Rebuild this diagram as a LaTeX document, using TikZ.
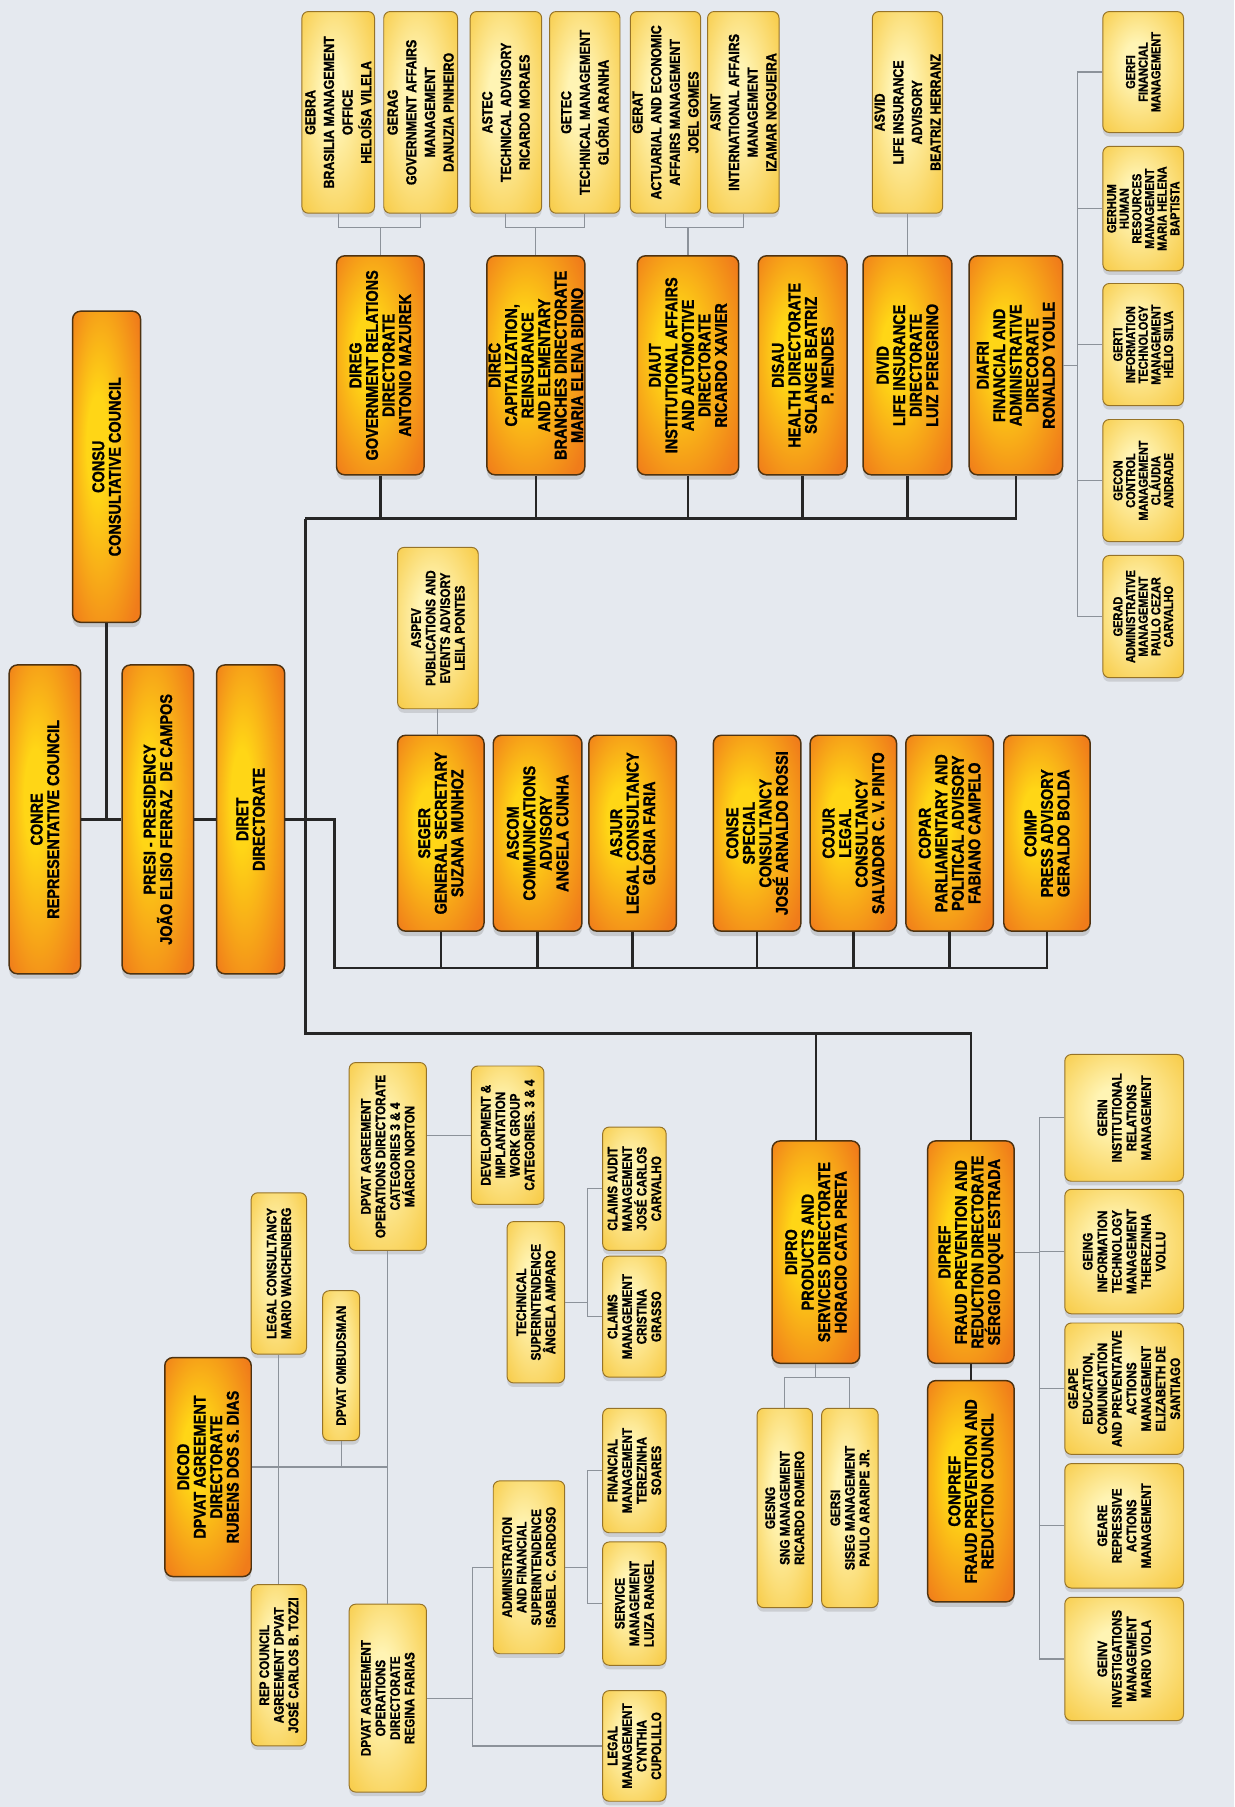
\documentclass[tikz,border=0pt]{standalone}
\usepackage{fontspec}
\setmainfont{Liberation Sans}[FakeStretch=0.85, BoldFeatures={FakeBold=1.2}]
\usepackage{tikz}
\usetikzlibrary{shadows}
\definecolor{bgcol}{RGB}{229,233,239}
\definecolor{orgout}{RGB}{240,124,26}
\definecolor{orgin}{RGB}{255,214,22}
\definecolor{palein}{RGB}{255,244,180}
\definecolor{paleout}{RGB}{246,196,52}
\definecolor{rim}{RGB}{78,50,16}
\definecolor{palerim}{RGB}{150,115,40}
\definecolor{wire}{RGB}{38,38,38}
\definecolor{twigcol}{RGB}{140,146,154}
\pgfdeclareradialshading{orgglow}{\pgfpoint{-8bp}{4bp}}{color(0bp)=(orgin); color(8bp)=(orgin); color(34bp)=(orgout); color(50bp)=(orgout)}
\pgfdeclareradialshading{paleglow}{\pgfpoint{-5bp}{5bp}}{color(0bp)=(palein); color(8bp)=(palein); color(40bp)=(paleout); color(50bp)=(paleout)}

\begin{document}
\begin{tikzpicture}[x=0.025cm,y=-0.025cm,
  obox/.style={shade, shading=orgglow, draw=rim, line width=0.9pt, rounded corners=5pt, rotate=90, align=center, inner sep=1pt,
    drop shadow={opacity=0.3, shadow xshift=0pt, shadow yshift=-3pt}, font=\bfseries\fontsize{10.5}{10.2}\selectfont},
  ybox/.style={shade, shading=paleglow, draw=palerim, line width=0.6pt, rounded corners=4pt, rotate=90, align=center, inner sep=1pt,
    drop shadow={opacity=0.25, shadow xshift=0pt, shadow yshift=-2.5pt}, font=\bfseries\fontsize{9}{11.5}\selectfont},
  ymid/.style={ybox, font=\bfseries\fontsize{8.5}{9}\selectfont},
  ysmall/.style={ybox, font=\bfseries\fontsize{8}{7.8}\selectfont},
  dims/.style 2 args={minimum height=#1*0.025cm, minimum width=#2*0.025cm},
  trunk/.style={draw=wire, line width=1.6pt},
  twig/.style={draw=twigcol, line width=0.7pt}]
  \fill[bgcol] (0,0) rectangle (1071,1568);
  \useasboundingbox (0,0) rectangle (1071,1568);

  \node[obox, dims={62}{268}] (conre) at (39,711) {CONRE\\REPRESENTATIVE COUNCIL};
  \node[obox, dims={62}{268}] (presi) at (137,711) {PRESI - PRESIDENCY\\JOÃO ELISIO FERRAZ~ DE CAMPOS};
  \node[obox, dims={59}{268}] (diret) at (217.5,711) {DIRET\\DIRECTORATE};
  \node[obox, dims={59}{270}] (consu) at (92.5,405) {CONSU\\CONSULTATIVE COUNCIL};

  \node[obox, dims={76}{190}] (direg) at (330,317) {DIREG\\GOVERNMENT RELATIONS\\DIRECTORATE\\ANTONIO MAZUREK};
  \node[obox, dims={82}{190}] (direc) at (465,317) {DIREC\\CAPITALIZATION,\\REINSURANCE\\AND ELEMENTARY\\BRANCHES DIRECTORATE\\MARIA ELENA BIDINO};
  \node[obox, dims={88}{190}] (diaut) at (597,317) {DIAUT\\INSTITUTIONAL AFFAIRS\\AND AUTOMOTIVE\\DIRECTORATE\\RICARDO XAVIER};
  \node[obox, dims={77}{190}] (disau) at (696.5,317) {DISAU\\HEALTH DIRECTORATE\\SOLANGE BEATRIZ\\P. MENDES};
  \node[obox, dims={77}{190}] (divid) at (787.5,317) {DIVID\\LIFE INSURANCE\\DIRECTORATE\\LUIZ PEREGRINO};
  \node[obox, dims={81}{190}] (diafri) at (881.5,317) {DIAFRI\\FINANCIAL AND\\ADMINISTRATIVE\\DIRECORATE\\RONALDO YOULE};

  \node[ybox, dims={63}{175}] (gebra) at (293.5,97.5) {GEBRA\\BRASILIA MANAGEMENT\\OFFICE\\HELOÍSA VILELA};
  \node[ybox, dims={64}{175}] (gerag) at (365,97.5) {GERAG\\GOVERNMENT AFFAIRS\\MANAGEMENT\\DANUZIA PINHEIRO};
  \node[ybox, dims={62}{175}] (astec) at (439,97.5) {ASTEC\\TECHNICAL ADVISORY\\RICARDO MORAES};
  \node[ybox, dims={61}{175}] (getec) at (507.5,97.5) {GETEC\\TECHNICAL MANAGEMENT\\GLÓRIA ARANHA};
  \node[ybox, dims={61}{175}] (gerat) at (577.5,97.5) {GERAT\\ACTUARIAL AND ECONOMIC\\AFFAIRS MANAGEMENT\\JOEL GOMES};
  \node[ybox, dims={62}{175}] (asint) at (645,97.5) {ASINT\\INTERNATIONAL AFFAIRS\\MANAGEMENT\\IZAMAR NOGUEIRA};
  \node[ybox, dims={61}{175}] (asvid) at (787.5,97.5) {ASVID\\LIFE INSURANCE\\ADVISORY\\BEATRIZ HERRANZ};

  \node[ysmall, dims={70}{105}] (gerfi) at (992,62.5) {GERFI\\FINANCIAL\\MANAGEMENT};
  \node[ysmall, dims={70}{108}] (gerhum) at (992,181) {GERHUM\\HUMAN\\RESOURCES\\MANAGEMENT\\MARIA HELENA\\BAPTISTA};
  \node[ysmall, dims={70}{106}] (gerti) at (992,299) {GERTI\\INFORMATION\\TECHNOLOGY\\MANAGEMENT\\HÉLIO SILVA};
  \node[ysmall, dims={70}{106}] (gecon) at (992,417) {GECON\\CONTROL\\MANAGEMENT\\CLÁUDIA\\ANDRADE};
  \node[ysmall, dims={70}{106}] (gerad) at (992,535) {GERAD\\ADMINISTRATIVE\\MANAGEMENT\\PAULO CEZAR\\CARVALHO};

  \node[ymid, dims={70}{140}] (aspev) at (380,545) {ASPEV\\PUBLICATIONS AND\\EVENTS ADVISORY\\LEILA PONTES};
  \node[obox, dims={75}{170}] (seger) at (382.5,723) {SEGER\\GENERAL SECRETARY\\SUZANA MUNHOZ};
  \node[obox, dims={77}{170}] (ascom) at (466.5,723) {ASCOM\\COMMUNICATIONS\\ADVISORY\\ANGELA CUNHA};
  \node[obox, dims={76}{170}] (asjur) at (549,723) {ASJUR\\LEGAL CONSULTANCY\\GLÓRIA FARIA};
  \node[obox, dims={76}{170}] (conse) at (657,723) {CONSE\\SPECIAL\\CONSULTANCY\\JOSÉ ARNALDO ROSSI};
  \node[obox, dims={75}{170}] (cojur) at (740.5,723) {COJUR\\LEGAL\\CONSULTANCY\\SALVADOR C. V. PINTO};
  \node[obox, dims={76}{170}] (copar) at (824,723) {COPAR\\PARLIAMENTARY AND\\POLITICAL ADVISORY\\FABIANO CAMPELO};
  \node[obox, dims={75}{170}] (coimp) at (908.5,723) {COIMP\\PRESS ADVISORY\\GERALDO BOLDA};

  \node[obox, dims={76}{193}] (dipro) at (708,1086.5) {DIPRO\\PRODUCTS AND\\SERVICES DIRECTORATE\\HORACIO CATA PRETA};
  \node[ymid, dims={48}{173}] (gesng) at (681,1308.5) {GESNG\\SNG MANAGEMENT\\RICARDO ROMEIRO};
  \node[ymid, dims={49}{173}] (gersi) at (737.5,1308.5) {GERSI\\SISEG MANAGEMENT\\PAULO ARARIPE JR.};
  \node[obox, dims={75}{193}] (dipref) at (842.5,1086.5) {DIPREF\\FRAUD PREVENTION AND\\REDUCTION DIRECTORATE\\SÉRGIO DUQUE ESTRADA};
  \node[obox, dims={75}{192}] (conpref) at (842.5,1294) {CONPREF\\FRAUD PREVENTION AND\\REDUCTION COUNCIL};

  \node[ymid, dims={103}{110}] (gerin) at (975.5,970) {GERIN\\INSTITUTIONAL\\RELATIONS\\MANAGEMENT};
  \node[ymid, dims={103}{108}] (geing) at (975.5,1086) {GEING\\INFORMATION\\TECHNOLOGY\\MANAGEMENT\\THEREZINHA\\VOLLU};
  \node[ymid, dims={103}{114}] (geape) at (975.5,1205) {GEAPE\\EDUCATION,\\COMUNICATION\\AND PREVENTATIVE\\ACTIONS\\MANAGEMENT\\ELIZABETH DE\\SANTIAGO};
  \node[ymid, dims={103}{108}] (geare) at (975.5,1324) {GEARE\\REPRESSIVE\\ACTIONS\\MANAGEMENT};
  \node[ymid, dims={103}{107}] (geinv) at (975.5,1439.5) {GEINV\\INVESTIGATIONS\\MANAGEMENT\\MARIO VIOLA};

  \node[obox, dims={75}{190}] (dicod) at (180.5,1273) {DICOD\\DPVAT AGREEMENT\\DIRECTORATE\\RUBENS DOS S. DIAS};
  \node[ymid, dims={48}{140}] (legcons) at (242,1105) {LEGAL CONSULTANCY\\MARIO WAICHENBERG};
  \node[ymid, dims={48}{140}] (repcouncil) at (242,1445) {REP COUNCIL\\AGREEMENT DPVAT\\JOSÉ CARLOS B. TOZZI};
  \node[ymid, dims={32}{130}] (ombud) at (296,1185) {DPVAT OMBUDSMAN};
  \node[ymid, dims={67}{163}] (norton) at (336.5,1003.5) {DPVAT AGREEMENT\\OPERATIONS DIRECTORATE\\CATEGORIES 3 \& 4\\MÁRCIO NORTON};
  \node[ymid, dims={67}{163}] (regina) at (336.5,1473.5) {DPVAT AGREEMENT\\OPERATIONS\\DIRECTORATE\\REGINA FARIAS};
  \node[ymid, dims={63}{120}] (devgroup) at (440.5,985) {DEVELOPMENT \&\\IMPLANTATION\\WORK GROUP\\CATEGORIES. 3 \& 4};
  \node[ymid, dims={50}{140}] (techsup) at (465,1130) {TECHNICAL\\SUPERINTENDENCE\\ÂNGELA AMPARO};
  \node[ymid, dims={55}{107}] (claudit) at (550.5,1031.5) {CLAIMS AUDIT\\MANAGEMENT\\JOSÉ CARLOS\\CARVALHO};
  \node[ymid, dims={55}{105}] (clmgmt) at (550.5,1142.5) {CLAIMS\\MANAGEMENT\\CRISTINA\\GRASSO};
  \node[ymid, dims={62}{150}] (adminsup) at (459,1360) {ADMINISTRATION\\AND FINANCIAL\\SUPERINTENDENCE\\ISABEL C. CARDOSO};
  \node[ymid, dims={55}{108}] (finmgmt) at (550.5,1276) {FINANCIAL\\MANAGEMENT\\TEREZINHA\\SOARES};
  \node[ymid, dims={55}{107}] (servmgmt) at (550.5,1391.5) {SERVICE\\MANAGEMENT\\LUIZA RANGEL};
  \node[ymid, dims={55}{96}] (legmgmt) at (550.5,1515) {LEGAL\\MANAGEMENT\\CYNTHIA\\CUPOLILLO};

  \coordinate (busTop) at (265,450);
  \coordinate (busMid) at (290,840);
  \coordinate (busLow) at (265,897);
  \draw[trunk] (conre.south) -- (presi.north);
  \draw[trunk] (presi.south) -- (diret.north);
  \draw[trunk] (consu.west) -- (consu.west |- presi.center);
  \draw[trunk] (diret.south) -- (busMid |- diret.south) -- (busMid) -| (coimp.west);
  \draw[trunk] (busTop) -- (busLow) -| (dipref.east);
  \draw[trunk] (busTop) -| (diafri.west);
  \foreach \n in {direg,direc,diaut,disau,divid}
    \draw[trunk] (\n.west) -- (\n.west |- busTop);
  \foreach \n in {seger,ascom,asjur,conse,cojur,copar}
    \draw[trunk] (\n.west) -- (\n.west |- busMid);
  \draw[trunk] (dipro.east) -- (dipro.east |- busLow);
  \draw[trunk] (dipref.west) -- (conpref.east);

  \coordinate (spineA) at (935,0);
  \coordinate (spineB) at (902,0);
  \coordinate (spineC) at (336.5,0);
  \coordinate (spineD) at (510,0);
  \coordinate (spineE) at (410,0);
  \draw[twig] (gebra.west) -- ++(0,12) -| (gerag.west);
  \draw[twig] (direg.east) -- (direg.east |- 0,197);
  \draw[twig] (astec.west) -- ++(0,12) -| (getec.west);
  \draw[twig] (direc.east) -- (direc.east |- 0,197);
  \draw[twig] (gerat.west) -- ++(0,12) -| (asint.west);
  \draw[twig] (diaut.east) -- (diaut.east |- 0,197);
  \draw[twig] (asvid.west) -- (divid.east);
  \draw[twig] (gerfi.north) -| (spineA |- gerad.north) -- (gerad.north);
  \foreach \n in {gerhum,gerti,gecon}
    \draw[twig] (\n.north) -- (\n.north -| spineA);
  \draw[twig] (diafri.south) -- (diafri.south -| spineA);
  \draw[twig] (aspev.west) -- (aspev.west |- seger.east);
  \draw[twig] (gerin.north) -| (spineB |- geinv.north) -- (geinv.north);
  \foreach \n in {geing,geape,geare}
    \draw[twig] (\n.north) -- (\n.north -| spineB);
  \draw[twig] (dipref.south) -- (dipref.south -| spineB);
  \draw[twig] (dipro.west) -- ++(0,12) coordinate (dproj);
  \draw[twig] (gesng.east) |- (dproj) -| (gersi.east);
  \draw[twig] (dicod.south) -- (dicod.south -| spineC);
  \draw[twig] (norton.west) -- (regina.east);
  \draw[twig] (legcons.west) -- (repcouncil.east);
  \draw[twig] (ombud.west) -- (ombud.west |- dicod.south);
  \draw[twig] (norton.south |- devgroup.north) -- (devgroup.north);
  \draw[twig] (claudit.north) -| (spineD |- clmgmt.north) -- (clmgmt.north);
  \draw[twig] (techsup.south) -- (techsup.south -| spineD);
  \draw[twig] (finmgmt.north) -| (spineD |- servmgmt.north) -- (servmgmt.north);
  \draw[twig] (adminsup.south) -- (adminsup.south -| spineD);
  \draw[twig] (adminsup.north) -| (spineE |- legmgmt.north) -- (legmgmt.north);
  \draw[twig] (regina.south) -- (regina.south -| spineE);
\end{tikzpicture}
\end{document}
